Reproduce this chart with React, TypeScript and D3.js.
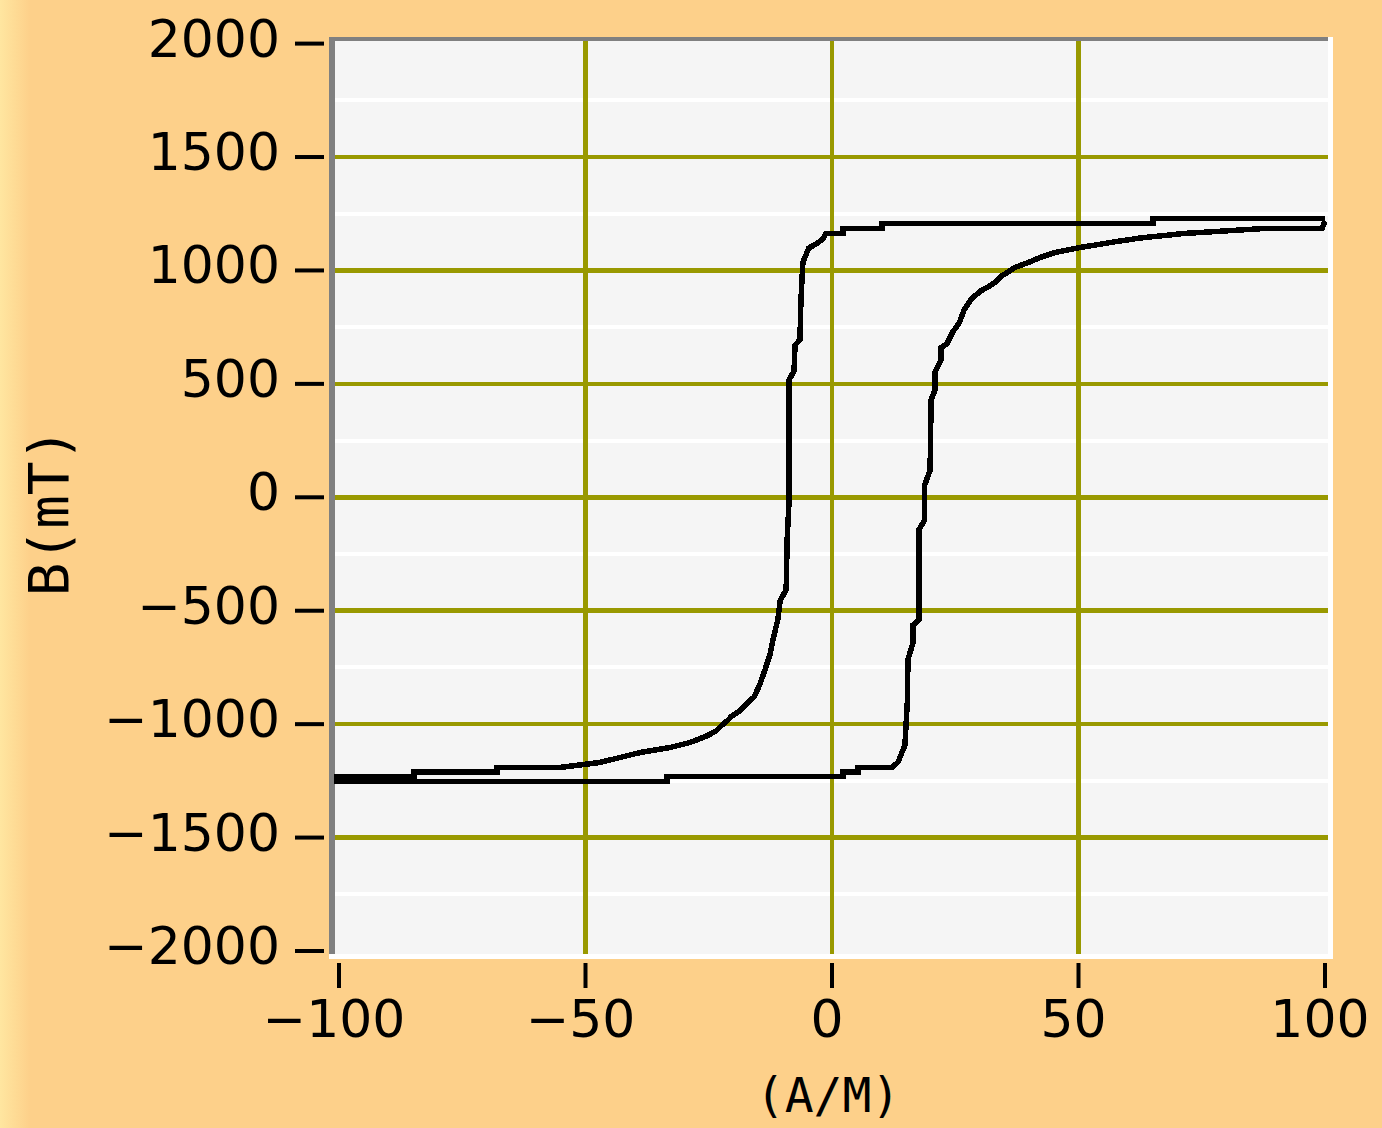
import * as d3 from 'd3'

const ascH = [-101, -33.5, -33.5, 2.2, 2.2, 5.3, 5.3, 12.2, 13.4, 14.8, 15.3, 15.4, 16.4, 16.4, 17.6, 17.6, 18.8, 18.8, 19.9, 20.1, 20.9, 20.9, 22.1, 22.1, 23.3, 24.5, 25.8, 26.8, 28.0, 29.0, 30.2, 32.0, 33.5, 34.1, 37.1, 39.8, 42.2, 45.2, 50.3, 56.4, 62.5, 71.4, 87.8, 99.4, 100]
const ascB = [-1253, -1253, -1231, -1231, -1211, -1211, -1191, -1191, -1167, -1092, -894, -717, -642, -563, -541, -144, -100, 54, 120, 429, 473, 553, 606, 659, 676, 729, 769, 826, 866, 888, 910, 932, 954, 971, 1013, 1035, 1057, 1079, 1101, 1123, 1143, 1163, 1185, 1185, 1218]

const descH = [100, 65.1, 65.1, 10.1, 10.1, 2.2, 2.2, -1.2, -1.8, -3.0, -4.7, -5.3, -5.9, -6.3, -6.5, -7.5, -7.7, -8.7, -8.7, -9.1, -9.3, -10.5, -11.0, -12.0, -12.6, -13.6, -14.6, -15.8, -17.2, -18.7, -20.3, -21.3, -22.5, -23.5, -25.4, -28.8, -32.9, -38.9, -43.0, -47.1, -55.2, -68.0, -68.0, -84.8, -84.8, -101]
const descB = [1229, 1229, 1207, 1207, 1185, 1185, 1163, 1163, 1141, 1119, 1099, 1068, 1037, 870, 694, 671, 557, 517, -12, -188, -409, -453, -541, -629, -695, -761, -823, -880, -907, -942, -964, -986, -1008, -1030, -1052, -1081, -1103, -1125, -1147, -1169, -1191, -1191, -1211, -1211, -1233, -1233]

const xTicks = [-100, -50, 0, 50, 100]
const yTicks = [2000, 1500, 1000, 500, 0, -500, -1000, -1500, -2000]
const xGrid = [-50, 0, 50]
const yGrid = [1500, 1000, 500, 0, -500, -1000, -1500]
const yMinor = [1750, 1250, 750, 250, -250, -750, -1250, -1750]

const xTitle = '(A/M)'
const yTitle = 'B(mT)'

const fmt = (v: number) => (v < 0 ? '\u2212' + Math.abs(v) : String(v))

export default function App() {
  const width = 1382,
    height = 1128
  // plot box (interior)
  const left = 335,
    right = 1328,
    top = 41,
    bottom = 954

  const x = d3.scaleLinear().domain([-100, 100]).range([339, 1325])
  const y = d3.scaleLinear().domain([-2000, 2000]).range([951, 43.6])

  const path = (hs: number[], bs: number[]) =>
    d3
      .line<[number, number]>()
      .x((d) => x(d[0]))
      .y((d) => y(d[1]))(hs.map((h, i) => [h, bs[i]]))

  return (
    <svg
      width={width}
      height={height}
      style={{ position: 'absolute', left: 0, top: 0, display: 'block' }}
    >
      <defs>
        <linearGradient id="edge" x1="0" x2="1" y1="0" y2="0">
          <stop offset="0" stopColor="#FFE6A0" />
          <stop offset="1" stopColor="#FDD08A" />
        </linearGradient>
      </defs>
      <rect width={width} height={height} fill="#FDD08A" />
      <rect width={30} height={height} fill="url(#edge)" />

      {/* plot frame: sunken look */}
      <rect x={left - 6} y={top - 4} width={right - left + 11} height={bottom - top + 9} fill="#FFFFFF" />
      <rect x={left - 6} y={top - 4} width={right - left + 6} height={bottom - top + 4} fill="#808080" />
      <rect x={left} y={top} width={right - left} height={bottom - top} fill="#F5F5F5" />

      <g shapeRendering="crispEdges">
        {yMinor.map((v) => (
          <line key={'m' + v} x1={left} x2={right} y1={y(v)} y2={y(v)} stroke="#FFFFFF" strokeWidth={4} />
        ))}
        {yGrid.map((v) => (
          <line key={'g' + v} x1={left} x2={right} y1={y(v)} y2={y(v)} stroke="#999900" strokeWidth={4.5} />
        ))}
        {xGrid.map((v) => (
          <line key={'v' + v} x1={x(v)} x2={x(v)} y1={top} y2={bottom} stroke="#999900" strokeWidth={4.5} />
        ))}
      </g>

      <g fill="none" stroke="#000" strokeWidth={5.5} strokeLinejoin="miter" shapeRendering="crispEdges">
        <path d={path(ascH, ascB) ?? ''} />
        <path d={path(descH, descB) ?? ''} />
      </g>

      {/* axes */}
      <g fontFamily="'DejaVu Sans', sans-serif" fontSize={52} fill="#000">
        {yTicks.map((v) => (
          <g key={'yt' + v}>
            <rect x={295} y={y(v) - 2} width={29} height={4} fill="#000" />
            <text x={280} y={y(v) + 13} textAnchor="end">
              {fmt(v)}
            </text>
          </g>
        ))}
        {xTicks.map((v) => (
          <g key={'xt' + v}>
            <rect x={x(v) - 2} y={963} width={4} height={25} fill="#000" />
            <text x={x(v) - 5} y={1037} textAnchor="middle">
              {fmt(v)}
            </text>
          </g>
        ))}
      </g>

      <text
        x={828}
        y={1112}
        textAnchor="middle"
        fontFamily="'DejaVu Sans Mono', monospace"
        fontSize={48}
        fill="#000"
      >
        {xTitle}
      </text>
      <text
        transform="translate(68,512) rotate(-90)"
        textAnchor="middle"
        fontFamily="'DejaVu Sans Mono', monospace"
        fontSize={56}
        fill="#000"
      >
        {yTitle}
      </text>
    </svg>
  )
}
